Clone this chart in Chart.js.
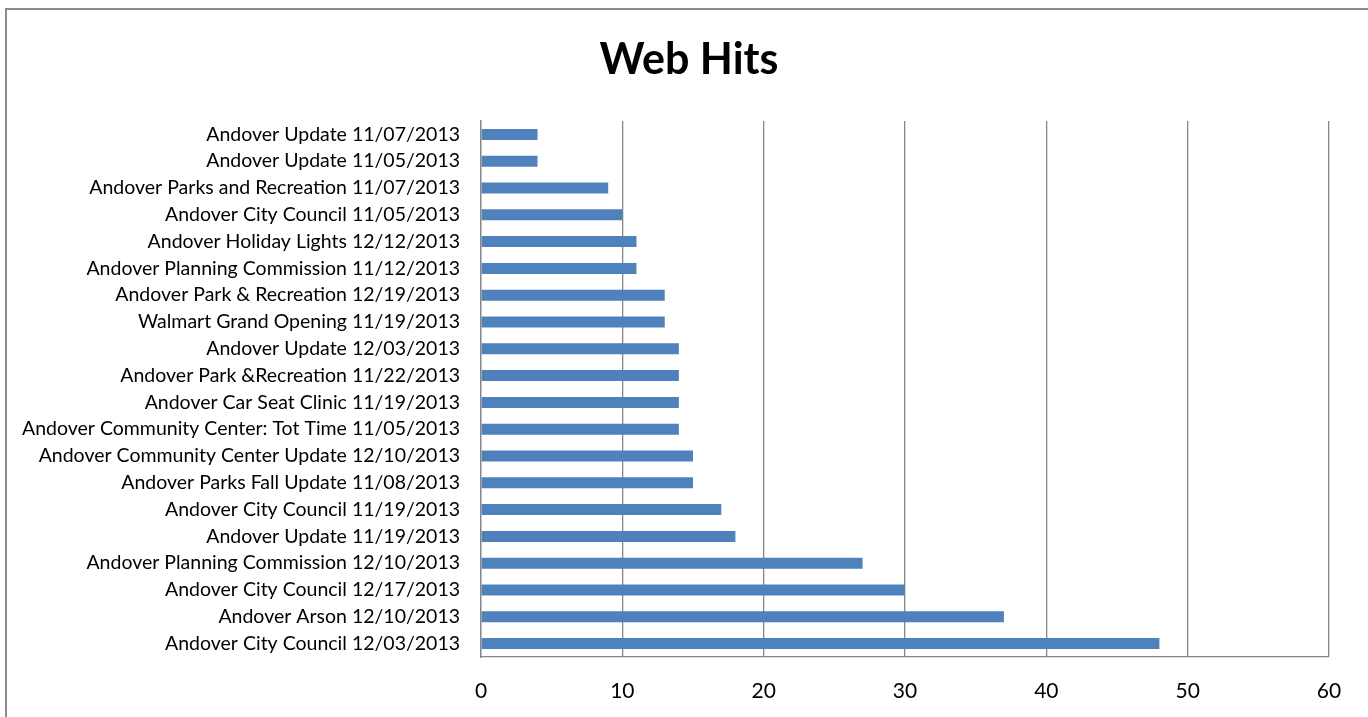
<!DOCTYPE html>
<html>
<head>
<meta charset="utf-8">
<script src="https://cdn.jsdelivr.net/npm/chart.js@4/dist/chart.umd.min.js"></script>
<style>
html,body{margin:0;padding:0;background:#fff;}
#wrap{width:1368px;height:717px;position:relative;}
</style>
</head>
<body>
<div id="wrap"><canvas id="c" width="1368" height="717"></canvas></div>
<script>
const categories = [
  "Andover Update 11/07/2013",
  "Andover Update 11/05/2013",
  "Andover Parks and Recreation 11/07/2013",
  "Andover City Council 11/05/2013",
  "Andover Holiday Lights 12/12/2013",
  "Andover Planning Commission 11/12/2013",
  "Andover Park & Recreation 12/19/2013",
  "Walmart Grand Opening 11/19/2013",
  "Andover Update 12/03/2013",
  "Andover Park &Recreation 11/22/2013",
  "Andover Car Seat Clinic 11/19/2013",
  "Andover Community Center: Tot Time 11/05/2013",
  "Andover Community Center Update 12/10/2013",
  "Andover Parks Fall Update 11/08/2013",
  "Andover City Council 11/19/2013",
  "Andover Update 11/19/2013",
  "Andover Planning Commission 12/10/2013",
  "Andover City Council 12/17/2013",
  "Andover Arson 12/10/2013",
  "Andover City Council 12/03/2013"
];
const webHits = [4, 4, 9, 10, 11, 11, 13, 13, 14, 14, 14, 14, 15, 15, 17, 18, 27, 30, 37, 48];
const xTicks = [0, 10, 20, 30, 40, 50, 60];
const chartTitle = "Web Hits";

const frame = {
  id: 'frame',
  beforeDraw(chart) {
    const ctx = chart.ctx;
    ctx.save();
    ctx.fillStyle = '#ffffff';
    ctx.fillRect(0, 0, chart.width, chart.height);
    ctx.strokeStyle = '#8a8a8a';
    ctx.lineWidth = 2;
    ctx.strokeRect(6, 9, 1400, 800);
    ctx.restore();
  },
  afterDraw(chart) {
    const ctx = chart.ctx;
    ctx.save();
    ctx.fillStyle = '#000';
    ctx.font = 'bold 43px Lato';
    ctx.textAlign = 'center';
    ctx.textBaseline = 'middle';
    ctx.fillText(chartTitle, 689, 60);
    ctx.restore();
  }
};

new Chart(document.getElementById('c'), {
  type: 'bar',
  data: {
    labels: categories,
    datasets: [{
      data: webHits,
      backgroundColor: '#4f81bd',
      borderWidth: 0,
      barPercentage: 0.41,
      categoryPercentage: 1.0
    }]
  },
  options: {
    indexAxis: 'y',
    responsive: false,
    animation: false,
    devicePixelRatio: 1,
    layout: { padding: { left: 0, right: 39, top: 121, bottom: 0 } },
    plugins: {
      legend: { display: false },
      tooltip: { enabled: false },
      title: { display: false }
    },
    scales: {
      x: {
        min: 0, max: 60,
        afterBuildTicks(scale) { scale.ticks = xTicks.map(v => ({ value: v })); },
        afterFit(scale) { scale.height = 60; },
        grid: { color: '#868686', lineWidth: 1.3, drawTicks: false },
        border: { display: true, color: '#868686', width: 1.3 },
        ticks: { color: '#000', font: { family: 'Lato', size: 21 }, padding: 22, maxRotation: 0 }
      },
      y: {
        afterFit(scale) { scale.width = 481; },
        grid: { display: false, drawTicks: false },
        border: { display: true, color: '#868686', width: 1.3 },
        ticks: { color: '#000', font: { family: 'Lato', size: 19.5 }, padding: 21, autoSkip: false }
      }
    }
  },
  plugins: [frame]
});
</script>
</body>
</html>
